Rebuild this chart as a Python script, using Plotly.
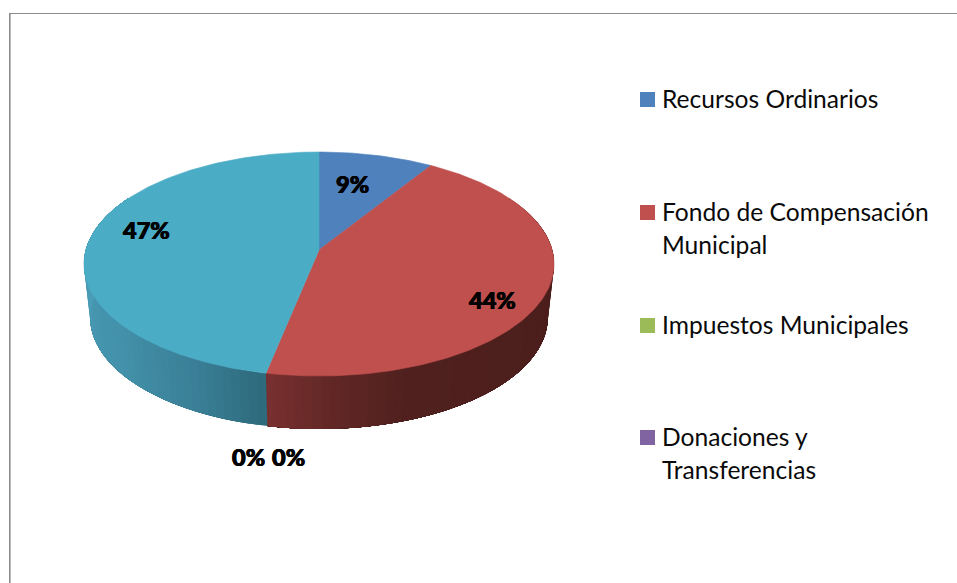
import math
import numpy as np
import plotly.graph_objects as go

# Data
categories = ["Recursos Ordinarios", "Fondo de Compensación\nMunicipal", "Impuestos Municipales",
              "Donaciones y\nTransferencias", "Otros"]
values = [8.9, 44.3, 0, 0, 46.8]
pct_labels = ["9%", "44%", "0%", "0%", "47%"]

# Styles and layout
top_colors = ["#4F81BD", "#C0504D", "#9BBB59", "#8064A2", "#4BACC6"]
wall_stops = {
    1: [(90, "#4A1D1B"), (160, "#4F201E"), (178, "#622826"), (192, "#7A3130")],
    4: [(192, "#2E6A7C"), (208, "#3A7F96"), (230, "#4290A9"), (270, "#4B9DB8")],
}
label_xy = [(352, 183.5), (492, 299.5), (248.5, 456.5), (288.5, 456.5), (146, 229.5)]
legend_y = [99.5, 212.5, 325.5, 437.5]
FONT = "Lato"
LEGEND_SIZE = 24.6
LINE_STEP = 33
LABEL_SIZE = 23.5

K = 0.125
TOP = dict(cx=319.0, cy=250.0, a=233.2, b=110.25)
BOT = dict(cx=319.0, cy=303.5, a=227.0, b=109.8)


def rim(ring, deg):
    """Perspective projection of a circle point; deg is clockwise from the far side."""
    p = np.radians(deg)
    w = 1 + K * np.cos(p)
    return ring["cx"] + ring["a"] * np.sin(p) / w, ring["cy"] - ring["b"] * np.cos(p) / w


def hex_rgb(c):
    return [int(c[i:i + 2], 16) for i in (1, 3, 5)]


def wall_color(stops, deg):
    ds = [s[0] for s in stops]
    rgb = [np.interp(deg, ds, [hex_rgb(s[1])[i] for s in stops]) for i in range(3)]
    return "rgb(%d,%d,%d)" % tuple(round(v) for v in rgb)


fig = go.Figure()
total = sum(values)
edges = np.cumsum([0] + values) / total * 360

# Side wall, drawn first so that the top surface covers its hidden part.
# Each strip runs on to the end of its slice, so the next strip paints over it without seams.
for i, stops in wall_stops.items():
    lo, hi = max(edges[i], 60), min(edges[i + 1], 300)
    n = max(2, int((hi - lo) / 2))
    steps = np.linspace(lo, hi, n + 1)
    for d0 in steps[:-1]:
        arc = np.linspace(d0, hi, 40)
        xt, yt = rim(TOP, arc)
        xb, yb = rim(BOT, arc[::-1])
        col = wall_color(stops, d0 + (hi - lo) / n / 2)
        fig.add_trace(go.Scatter(x=np.r_[xt, xb, xt[0]], y=np.r_[yt, yb, yt[0]], mode="lines",
                                 fill="toself", fillcolor=col, line=dict(width=0),
                                 hoverinfo="skip", showlegend=False))

# Top surface
for i, v in enumerate(values):
    if v == 0:
        continue
    arc = np.linspace(edges[i], edges[i + 1], max(8, int(v * 4)))
    x, y = rim(TOP, arc)
    fig.add_trace(go.Scatter(x=np.r_[TOP["cx"], x, TOP["cx"]], y=np.r_[TOP["cy"], y, TOP["cy"]],
                             mode="lines", fill="toself", fillcolor=top_colors[i],
                             line=dict(color=top_colors[i], width=0.6),
                             name=categories[i].replace("\n", " "),
                             text=f"{pct_labels[i]}", hoverinfo="name+text", showlegend=False))

annotations = []
# Percentage labels
for txt, (x, y) in zip(pct_labels, label_xy):
    annotations.append(dict(x=x, y=y, text=txt, showarrow=False, xref="x", yref="y",
                            xanchor="center", yanchor="middle",
                            font=dict(family=FONT, size=LABEL_SIZE, color="#000000", weight=900,
                                      shadow="0.5px 0 0 #000, -0.5px 0 0 #000")))

# Legend
for name, col, y in zip(categories[:4], top_colors[:4], legend_y):
    fig.add_trace(go.Scatter(x=[647.5], y=[y], mode="markers", hoverinfo="skip", showlegend=False,
                             marker=dict(symbol="square", size=15, color=col, line=dict(width=0))))
    for j, line in enumerate(name.split("\n")):
        annotations.append(dict(x=660, y=y - 1.5 + j * LINE_STEP, text=line, showarrow=False,
                                xref="x", yref="y", xanchor="left", yanchor="middle",
                                font=dict(family=FONT, size=LEGEND_SIZE, color="#0A0A0A")))

frame = [
    dict(type="line", xref="x", yref="y", x0=9, x1=957, y0=13.5, y1=13.5,
         line=dict(color="#8C8C8C", width=1)),
    dict(type="line", xref="x", yref="y", x0=9.8, x1=9.8, y0=13, y1=583,
         line=dict(color="#8C8C8C", width=1.6)),
]

fig.update_layout(
    width=957, height=583, autosize=False, margin=dict(l=0, r=0, t=0, b=0),
    paper_bgcolor="#FFFFFF", plot_bgcolor="#FFFFFF", showlegend=False,
    xaxis=dict(range=[0, 957], visible=False, fixedrange=True),
    yaxis=dict(range=[583, 0], visible=False, fixedrange=True),
    annotations=annotations, shapes=frame,
)

fig.write_html("out.html", config={"displayModeBar": False},
               post_script="document.body.style.margin='0';document.body.style.overflow='hidden';")
